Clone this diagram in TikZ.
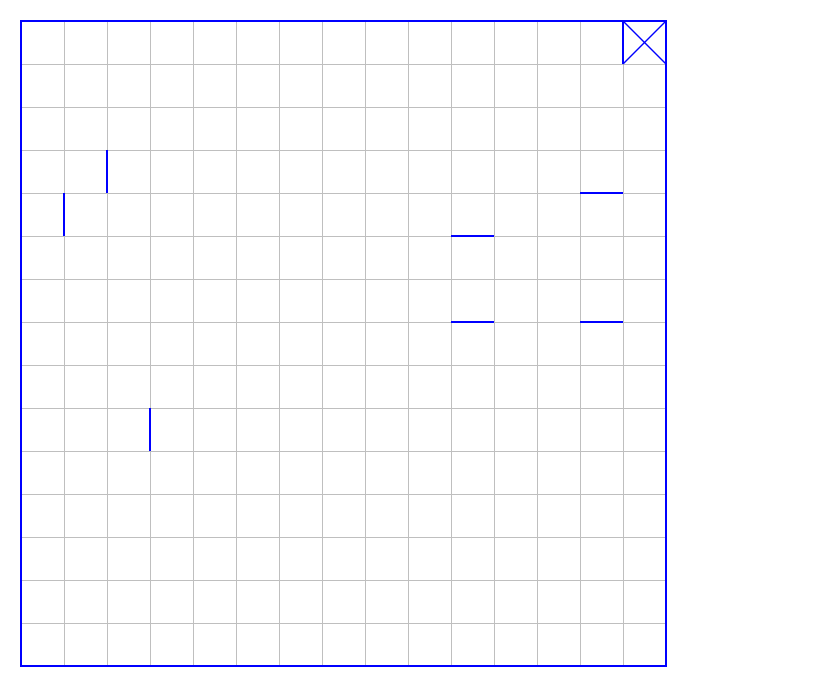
\documentclass[tikz,border=0pt]{standalone}
\usepackage{tikz}
\definecolor{gridgray}{RGB}{191,191,191}
\definecolor{wallblue}{RGB}{0,0,255}

\begin{document}
\begin{tikzpicture}[
  x=1cm, y=1cm,
  gridline/.style={draw=gridgray, line width=0.6pt},
  wall/.style={draw=wallblue, line width=1.3pt},
  goalmark/.style={draw=wallblue, line width=0.9pt}
]
\useasboundingbox (-0.488,-0.744) rectangle (18.930,15.488);
\draw[gridline] (0,0) grid (15,15);

% walls
\foreach \a/\b in {{(2,12)}/{(2,11)}, {(1,11)}/{(1,10)}, {(3,6)}/{(3,5)},
                   {(13,11)}/{(14,11)}, {(10,10)}/{(11,10)},
                   {(10,8)}/{(11,8)}, {(13,8)}/{(14,8)}}
  \draw[wall] \a -- \b;

% goal cell
\coordinate (goalsw) at (14,14);
\coordinate (goalnw) at (14,15);
\coordinate (goalne) at (15,15);
\coordinate (goalse) at (15,14);
\draw[wall] (goalnw) -- (goalsw);
\draw[goalmark] (goalsw) -- (goalne);
\draw[goalmark] (goalnw) -- (goalse);

% outer border
\draw[wall] (0,0) rectangle (15,15);
\end{tikzpicture}
\end{document}
